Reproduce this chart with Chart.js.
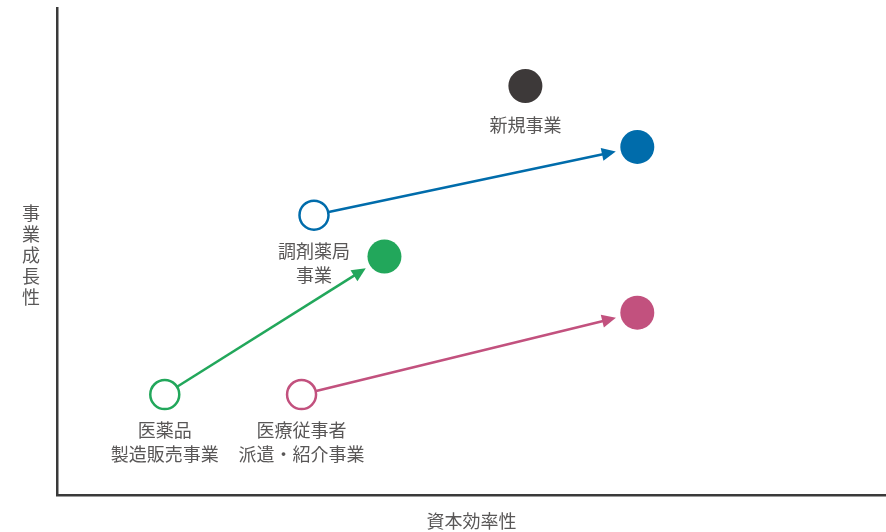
<!DOCTYPE html>
<html>
<head>
<meta charset="utf-8">
<script src="https://cdn.jsdelivr.net/npm/chart.js@4/dist/chart.umd.min.js"></script>
<style>
  body { margin: 0; background: #fff; }
  #wrap { width: 886px; height: 532px; }
</style>
</head>
<body>
<div id="wrap"><canvas id="matrix"></canvas></div>
<script>
// 事業ポートフォリオ: 資本効率性 (x) × 事業成長性 (y)
var businesses = ["医薬品\n製造販売事業", "調剤薬局\n事業", "医療従事者\n派遣・紹介事業"];
var colorList = ["#22a75b", "#006cab", "#c2517e"];
var fromX = [13, 31, 29.5];
var fromY = [20.7, 57.5, 20.7];
var toX = [39.5, 70, 70];
var toY = [49, 71.5, 37.5];

var newBiz = "新規事業";
var newX = [56.5];
var newY = [84];
var newColor = "#3d3939";

var xTitle = "資本効率性";
var yTitle = "事業成長性";

var fontName = "'Noto Sans CJK JP', 'Noto Sans', sans-serif";
var textColor = "#595757";

var datasets = [];
for (var i = 0; i < businesses.length; i++) {
  datasets.push({
    label: businesses[i],
    data: [{x: fromX[i], y: fromY[i]}, {x: toX[i], y: toY[i]}],
    pointRadius: [14.5, 17],
    pointBackgroundColor: ["#ffffff", colorList[i]],
    pointBorderColor: colorList[i],
    pointBorderWidth: [2.5, 0],
    showLine: false
  });
}
datasets.push({
  label: newBiz,
  data: [{x: newX[0], y: newY[0]}],
  pointRadius: 17,
  pointBackgroundColor: newColor,
  pointBorderWidth: 0
});

/* arrows between the current and target positions, and the text labels */
var decorations = {
  id: "decorations",
  beforeDatasetsDraw: function(chart) {
    var ctx = chart.ctx;
    var xs = chart.scales.x, ys = chart.scales.y;
    ctx.save();
    for (var i = 0; i < businesses.length; i++) {
      var x0 = xs.getPixelForValue(fromX[i]), y0 = ys.getPixelForValue(fromY[i]);
      var x1 = xs.getPixelForValue(toX[i]), y1 = ys.getPixelForValue(toY[i]);
      var a = Math.atan2(y1 - y0, x1 - x0);
      var sx = x0 + Math.cos(a) * 15, sy = y0 + Math.sin(a) * 15;
      var ex = x1 - Math.cos(a) * 22, ey = y1 - Math.sin(a) * 22;
      var head = 14;
      ctx.strokeStyle = colorList[i];
      ctx.fillStyle = colorList[i];
      ctx.lineWidth = 2.5;
      ctx.beginPath();
      ctx.moveTo(sx, sy);
      ctx.lineTo(ex - Math.cos(a) * (head - 2), ey - Math.sin(a) * (head - 2));
      ctx.stroke();
      ctx.beginPath();
      ctx.moveTo(ex, ey);
      ctx.lineTo(ex - head * Math.cos(a) + 6.5 * Math.sin(a), ey - head * Math.sin(a) - 6.5 * Math.cos(a));
      ctx.lineTo(ex - head * Math.cos(a) - 6.5 * Math.sin(a), ey - head * Math.sin(a) + 6.5 * Math.cos(a));
      ctx.closePath();
      ctx.fill();
    }
    ctx.restore();
  },
  afterDatasetsDraw: function(chart) {
    var ctx = chart.ctx;
    var xs = chart.scales.x, ys = chart.scales.y;
    ctx.save();
    ctx.fillStyle = textColor;
    ctx.font = "18px " + fontName;
    ctx.textAlign = "center";
    ctx.textBaseline = "middle";
    for (var i = 0; i < businesses.length; i++) {
      var px = xs.getPixelForValue(fromX[i]), py = ys.getPixelForValue(fromY[i]);
      var lines = businesses[i].split("\n");
      for (var k = 0; k < lines.length; k++) {
        ctx.fillText(lines[k], px, py + 36 + k * 24);
      }
    }
    ctx.fillText(newBiz, xs.getPixelForValue(newX[0]), ys.getPixelForValue(newY[0]) + 39);

    // vertical y-axis title, one character per line
    var chars = yTitle.split("");
    var mid = 255;
    for (var c = 0; c < chars.length; c++) {
      ctx.fillText(chars[c], 31, mid + (c - (chars.length - 1) / 2) * 21);
    }
    ctx.restore();
  }
};

new Chart(document.getElementById("matrix"), {
  type: "scatter",
  data: {datasets: datasets},
  plugins: [decorations],
  options: {
    responsive: true,
    maintainAspectRatio: false,
    animation: false,
    layout: {autoPadding: false, padding: {left: 57, top: 8, right: 0, bottom: 0}},
    plugins: {
      legend: {display: false},
      tooltip: {enabled: false}
    },
    scales: {
      x: {
        min: 0, max: 100,
        grid: {display: false, drawTicks: false},
        ticks: {display: false},
        border: {color: "#3a3a3a", width: 2.5},
        title: {
          display: true, text: xTitle, color: textColor,
          font: {family: fontName, size: 18},
          padding: {top: 15, bottom: 0}
        }
      },
      y: {
        min: 0, max: 100,
        grid: {display: false, drawTicks: false},
        ticks: {display: false},
        border: {color: "#3a3a3a", width: 2.5}
      }
    }
  }
});
</script>
</body>
</html>
